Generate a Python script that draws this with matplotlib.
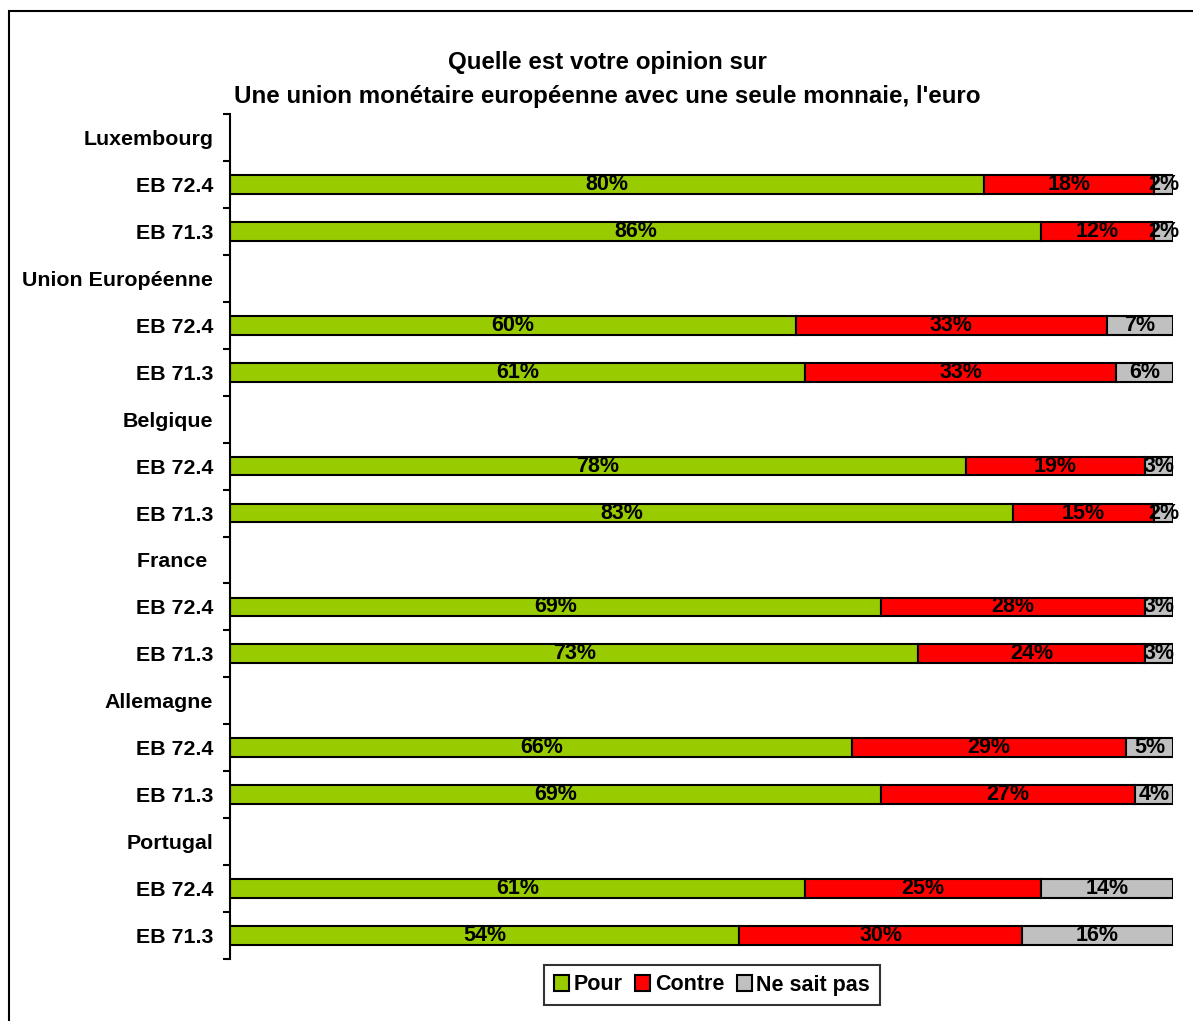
import matplotlib
matplotlib.use("Agg")
import matplotlib.pyplot as plt
from matplotlib.patches import Rectangle, Patch
import numpy as np

plt.rcParams['font.family'] = ['Liberation Sans', 'DejaVu Sans']
plt.rcParams['font.weight'] = 'bold'

# Survey data
groups = ["Luxembourg", "Union Européenne", "Belgique", "France ", "Allemagne", "Portugal"]
waves = ["EB 72.4", "EB 71.3"]
pour = [80, 86, 60, 61, 78, 83, 69, 73, 66, 69, 61, 54]
contre = [18, 12, 33, 33, 19, 15, 28, 24, 29, 27, 25, 30]
nsp = [2, 2, 7, 6, 3, 2, 3, 3, 5, 4, 14, 16]
series_names = ["Pour", "Contre", "Ne sait pas"]
colors = ["#99CC00", "#FF0000", "#C0C0C0"]
title = "Quelle est votre opinion sur\nUne union monétaire européenne avec une seule monnaie, l'euro"

W, H = 1193, 1021
fig = plt.figure(figsize=(W / 100, H / 100), dpi=100)
ax = fig.add_axes([230 / W, 1 - 959 / H, (1173 - 230) / W, (959 - 114) / H])

# Build rows: group header followed by its survey waves
row_labels = []
bar_rows = []
for gi, g in enumerate(groups):
    row_labels.append(g)
    for wi, w in enumerate(waves):
        bar_rows.append((len(row_labels), gi * len(waves) + wi))
        row_labels.append(w)

n_rows = len(row_labels)
bar_h = 0.4
for row, idx in bar_rows:
    vals = [pour[idx], contre[idx], nsp[idx]]
    total = sum(vals)
    left = 0.0
    for v, c in zip(vals, colors):
        width = 100.0 * v / total
        ax.barh(row, width, left=left, height=bar_h, color=c,
                edgecolor="black", linewidth=1.5)
        ax.text(left + width / 2, row, f"{v}%", ha="center", va="center",
                fontsize=15.5, fontweight="bold", color="black")
        left += width

ax.set_xlim(0, 100)
ax.set_ylim(n_rows - 0.5, -0.5)
ax.set_yticks(np.arange(n_rows))
ax.set_yticklabels(row_labels, fontsize=15.4, fontweight="bold")
ax.set_yticks(np.arange(n_rows + 1) - 0.5, minor=True)
ax.tick_params(axis="y", which="major", length=0, pad=12)
ax.tick_params(axis="y", which="minor", length=5, width=1.5, direction="out")
ax.set_xticks([])
for s in ["top", "right", "bottom"]:
    ax.spines[s].set_visible(False)
ax.spines["left"].set_linewidth(1.5)

fig.text(607 / W, 1 - 79.5 / H, title, ha="center", va="center",
         fontsize=17.4, fontweight="bold", linespacing=1.57)

handles = [Patch(facecolor=c, edgecolor="black", linewidth=1.5) for c in colors]
leg = fig.legend(handles, series_names, loc="center", ncol=3,
                 bbox_to_anchor=(712 / W, 1 - 985 / H),
                 prop={"size": 15.5, "weight": "bold"},
                 frameon=True, fancybox=False, handlelength=0.7, handleheight=0.7,
                 handletextpad=0.2, columnspacing=0.6, borderpad=0.45)
leg.get_frame().set_edgecolor("black")
leg.get_frame().set_linewidth(1.5)

# Outer chart frame
fig.patches.append(Rectangle((9 / W, -0.1), 1.2, 1 - 11 / H + 0.1,
                             transform=fig.transFigure, fill=False,
                             edgecolor="black", linewidth=1.5))

fig.savefig("out.png", dpi=100)
